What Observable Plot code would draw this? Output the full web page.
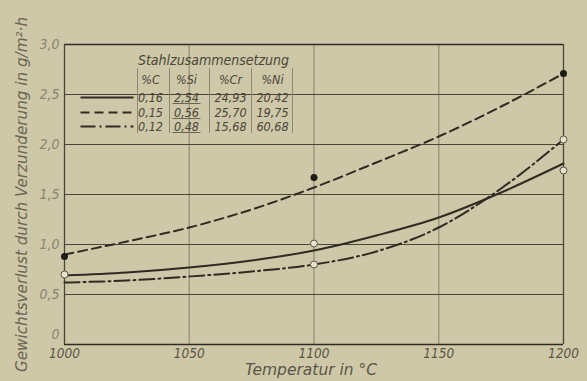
<!DOCTYPE html>
<html><head><meta charset="utf-8">
<script src="https://cdn.jsdelivr.net/npm/d3@7"></script>
<script src="https://cdn.jsdelivr.net/npm/@observablehq/plot@0.6"></script>
<style>
html,body{margin:0;padding:0;background:#cec8a9;}
#chart svg{display:block;background:#cec8a9;}
</style></head><body><div id="chart"></div>
<script>
// ---- data ----
const temps = [1000, 1025, 1050, 1075, 1100, 1125, 1150, 1175, 1200];
const lossSolid   = [0.69, 0.72, 0.77, 0.84, 0.94, 1.09, 1.27, 1.52, 1.81];
const lossDashed  = [0.90, 1.03, 1.17, 1.35, 1.57, 1.82, 2.08, 2.38, 2.71];
const lossDashDot = [0.62, 0.64, 0.68, 0.73, 0.80, 0.93, 1.17, 1.56, 2.05];

const filledT = [1000, 1100, 1200];
const filledV = [0.88, 1.67, 2.71];
const openT = [1000, 1100, 1100, 1200, 1200];
const openV = [0.70, 1.01, 0.80, 2.05, 1.74];

const xTicks = [1000, 1050, 1100, 1150, 1200];
const yTicks = [0, 0.5, 1.0, 1.5, 2.0, 2.5, 3.0];
const yTickLabels = ["0", "0,5", "1,0", "1,5", "2,0", "2,5", "3,0"];

const legendTitle = "Stahlzusammensetzung";
const legendHeaders = ["%C", "%Si", "%Cr", "%Ni"];
const compC  = ["0,16", "0,15", "0,12"];
const compSi = ["2,54", "0,56", "0,48"];
const compCr = ["24,93", "25,70", "15,68"];
const compNi = ["20,42", "19,75", "60,68"];
const lineStyles = [null, "9,5", "15,4,2,4"];

// ---- layout helpers (pixel layout -> data units for legend placement) ----
const W = 587, H = 381, ML = 64, MR = 24, MT = 44, MB = 37;
const px2t = px => 1000 + (px - ML) * 200 / (W - ML - MR);
const py2v = py => (H - MB - py) * 3 / (H - MB - MT);

const series = [lossSolid, lossDashed, lossDashDot];
const curveData = series.map(s => temps.map((t, i) => ({t, v: s[i]})));

const font = "'DejaVu Sans Condensed', 'DejaVu Sans', sans-serif";
const wideFont = "'DejaVu Sans', sans-serif";
const ink = "#2f2b22";

const colX = [150, 186, 230, 272];
const rowY = [97, 112, 126];
const headY = 79;
const sepX = [137, 169, 209, 251, 292];

const legendCells = [];
legendHeaders.forEach((h, j) => legendCells.push({t: px2t(colX[j]), v: py2v(headY), s: h}));
[compC, compSi, compCr, compNi].forEach((col, j) => col.forEach((s, r) =>
  legendCells.push({t: px2t(colX[j]), v: py2v(rowY[r]), s})));

const seps = sepX.map(x => ({t: px2t(x), v1: py2v(68), v2: py2v(133)}));
const siUnder = rowY.map(y => ({t1: px2t(172), t2: px2t(200), v: py2v(y + 6)}));

const legendLineMarks = lineStyles.map((d, r) =>
  Plot.link([{t1: px2t(80), t2: px2t(133), v: py2v(rowY[r])}],
    {x1: "t1", x2: "t2", y1: "v", y2: "v", stroke: ink, strokeWidth: 2, ...(d ? {strokeDasharray: d} : {})}));

const chart = Plot.plot({
  width: W, height: H,
  marginLeft: ML, marginRight: MR, marginTop: MT, marginBottom: MB,
  style: {background: "#cec8a9", fontFamily: font, fontStyle: "italic"},
  x: {domain: [1000, 1200], axis: null},
  y: {domain: [0, 3], axis: null},
  marks: [
    // grid
    Plot.ruleX([1050, 1100, 1150], {stroke: "#9a957d", strokeWidth: 1.4}),
    Plot.ruleY([0.5, 1.0, 1.5, 2.0, 2.5], {stroke: "#4a4638", strokeWidth: 1.2}),
    Plot.ruleY([0, 3], {stroke: ink, strokeWidth: 1.6}),
    Plot.ruleX([1000, 1200], {stroke: "#4a4638", strokeWidth: 1.3}),
    // tick labels
    Plot.text(yTicks, {x: 1000, y: d => d, text: (d, i) => yTickLabels[i], textAnchor: "end", dx: -5, fill: "#8a8571", fontSize: 14, fontStyle: "italic", filter: d => d !== 0}),
    Plot.text([0], {x: 1000, y: d => d, text: () => yTickLabels[0], textAnchor: "end", dx: -5, dy: -10, fill: "#8a8571", fontSize: 14, fontStyle: "italic"}),
    Plot.text(xTicks, {x: d => d, y: 0, text: d => String(d), dy: 4, lineAnchor: "top", fill: "#5a5646", fontSize: 13.5, fontStyle: "italic"}),
    Plot.text(["Temperatur in °C"], {frameAnchor: "bottom", dx: -3, dy: 30, fill: "#5a5646", fontSize: 15.5, fontFamily: wideFont, fontStyle: "italic"}),
    Plot.text(["Gewichtsverlust durch Verzunderung in g/m²·h"], {frameAnchor: "left", textAnchor: "middle", rotate: -90, dx: -42, dy: 0, fill: "#6a6653", fontSize: 15.2, fontFamily: wideFont, fontStyle: "italic"}),
    // curves
    Plot.line(curveData[0], {x: "t", y: "v", stroke: ink, strokeWidth: 2, curve: "monotone-x"}),
    Plot.line(curveData[1], {x: "t", y: "v", stroke: ink, strokeWidth: 2, strokeDasharray: "9,5", curve: "monotone-x"}),
    Plot.line(curveData[2], {x: "t", y: "v", stroke: ink, strokeWidth: 2, strokeDasharray: "15,4,2,4", curve: "monotone-x"}),
    // markers
    Plot.dot(openT.map((t, i) => ({t, v: openV[i]})), {x: "t", y: "v", r: 3.5, fill: "#e6e2cc", stroke: "#5a5646", strokeWidth: 1}),
    Plot.dot(filledT.map((t, i) => ({t, v: filledV[i]})), {x: "t", y: "v", r: 3.5, fill: "#1e1b15", stroke: "none"}),
    // legend table
    Plot.text([legendTitle], {x: px2t(213), y: py2v(60), fill: "#4a4638", fontSize: 14, fontStyle: "italic"}),
    Plot.ruleX(seps, {x: "t", y1: "v1", y2: "v2", stroke: "#8d8872", strokeWidth: 1}),
    Plot.text(legendCells, {x: "t", y: "v", text: "s", fill: "#4a4638", fontSize: 12.5, fontStyle: "italic"}),
    Plot.link(siUnder, {x1: "t1", x2: "t2", y1: "v", y2: "v", stroke: "#6a6653", strokeWidth: 1}),
    ...legendLineMarks
  ]
});
document.getElementById("chart").appendChild(chart);
</script>
</body></html>
